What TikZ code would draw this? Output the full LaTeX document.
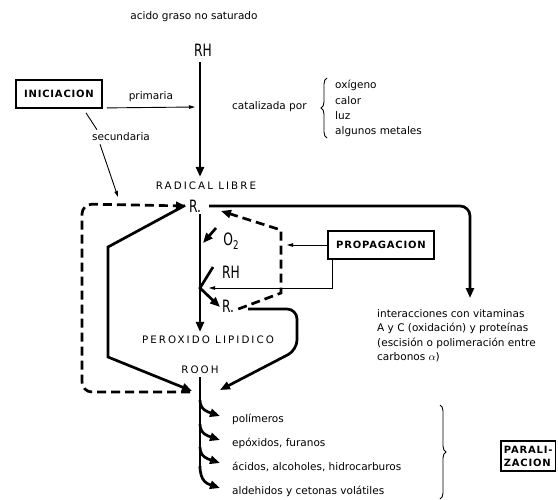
\documentclass[tikz,border=0pt]{standalone}
\usepackage{fontspec}
\setmainfont{DejaVu Sans}
\newfontfamily\capsfont[LetterSpace=20]{DejaVu Sans}
\newfontfamily\boxfont[LetterSpace=8]{DejaVu Sans}
\newfontfamily\chemfont{DejaVu Sans Condensed}
\usepackage{graphicx}
\usetikzlibrary{arrows.meta,decorations.pathreplacing}

\begin{document}
\begin{tikzpicture}[x=1pt,y=-1pt,
    txt/.style={font=\fontsize{10.5}{14.5}\selectfont, inner sep=0pt},
    caps/.style={font=\capsfont\fontsize{10.3}{12}\selectfont, inner sep=0pt},
    chem/.style={font=\chemfont\fontsize{17}{17}\selectfont, inner sep=0pt},
    boxed/.style={draw, line width=1.8pt, font=\boxfont\bfseries\fontsize{10}{13}\selectfont,
                  inner xsep=8pt, minimum height=28pt},
    bigarrow/.style={line width=2.7pt, -{Triangle[length=10pt,width=8pt]}},
    smallarrow/.style={line width=0.9pt, -{Triangle[length=6pt,width=3.5pt]}},
    thinline/.style={line width=0.9pt},
    dasharrow/.style={line width=2.7pt, dash pattern=on 9pt off 5pt,
                      -{Triangle[length=10pt,width=8pt]}},
    bracket/.style={decorate, decoration={brace, amplitude=6pt}, line width=0.9pt}]
    \useasboundingbox (0,0) rectangle (558,499);

    % Initiation: fatty acid to free radical
    \node[txt] (acid) at (194,17) {acido graso no saturado};
    \node[chem] (rh1) at (203,50) {\scalebox{0.8}[1]{RH}};
    \node[caps] (rad) at (206,186) {RADICAL LIBRE};
    \coordinate (v0) at (200,62);
    \draw[bigarrow] (v0) -- ([yshift=5pt]v0 |- rad.north);

    \node[boxed] (inic) at (59,94) {INICIACION};
    \coordinate (prim) at (195,107);
    \draw[smallarrow] ([xshift=4pt,yshift=1pt]inic.south east) -- node[txt, above=5pt] {primaria} (prim);
    \node[txt] (sec) at (121,137) {secundaria};
    \coordinate (secend) at (118,197);
    \draw[thinline] ([xshift=27pt,yshift=-4pt]inic.south) -- ([xshift=-24pt,yshift=3pt]sec.north);
    \draw[smallarrow] ([xshift=-21pt,yshift=-3pt]sec.south) -- (secend);

    \node[txt, anchor=west] (cat) at (232,107) {catalizada por};
    \draw[bracket] (327,138) -- (327,78);
    \node[txt, anchor=west] (ox) at (335,85) {oxígeno};
    \node[txt, anchor=west] (cal) at (335,101) {calor};
    \node[txt, anchor=west] (luz) at (335,116) {luz};
    \node[txt, anchor=west] (met) at (335,132) {algunos metales};

    % Propagation
    \node[chem, anchor=west] (r1) at (189,206) {\scalebox{0.8}[1]{R.}};
    \node[chem] (o2) at (231,241) {\scalebox{0.8}[1]{O\raisebox{-4pt}{\fontsize{12}{12}\selectfont 2}}};
    \node[chem] (rh2) at (231,272) {\scalebox{0.8}[1]{RH}};
    \node[chem, anchor=west] (r2) at (222,306) {\scalebox{0.8}[1]{R.}};
    \node[caps] (per) at (208,340) {PEROXIDO LIPIDICO};
    \node[caps] (rooh) at (200,370) {ROOH};
    \node[boxed] (prop) at (381,245) {PROPAGACION};

    \coordinate (v1) at (200,214);
    \coordinate (junc) at (200,288);
    \coordinate (o2s) at (216,228);
    \coordinate (o2e) at (203,243);
    \coordinate (rhs) at (213,267);
    \draw[bigarrow] (v1) -- ([yshift=4pt]v1 |- per.north);
    \draw[bigarrow] (o2s) -- (o2e);
    \draw[bigarrow] (rhs) -- (junc) -- ([xshift=-2pt,yshift=-1pt]r2.west);

    \coordinate (pin) at (287,245);
    \coordinate (pback) at (209,288);
    \draw[smallarrow] (prop.west) -- (pin);
    \draw[smallarrow] ([xshift=-49pt]prop.south) |- (pback);
    \coordinate (dtip) at (221,211);
    \draw[dasharrow] ([xshift=4pt,yshift=-3pt]r2.east) -- (281,293) -- (281,230) -- (dtip);

    % side reactions
    \coordinate (hs) at (209,206);
    \coordinate (hend) at (470,298);
    \draw[bigarrow, rounded corners=10pt] (hs) -- (hend |- hs) -- (hend);
    \node[txt, anchor=north west, align=left] (inter) at (377,309)
        {interacciones con vitaminas\\A y C (oxidación) y proteínas\\(escisión o polimeración entre\\carbonos $\alpha$)};

    \coordinate (lr) at (248,309);
    \coordinate (roohr) at (220,390);
    \draw[bigarrow, rounded corners=10pt] (lr) -- (297,309) -- (297,350) -- (roohr);

    \coordinate (roohl) at (192,391);
    \draw[bigarrow] ([xshift=-4pt,yshift=7pt]r1.south west) -- (108,247) -- (108,357) -- (roohl);
    \draw[dasharrow, rounded corners=10pt] (190,392) -- (82,392) -- (82,204) -- ([xshift=-3pt]r1.west);

    % Termination
    \draw[line width=2.7pt] ([yshift=-3pt]rooh.south -| v1) -- (200,470);
    \draw[bigarrow] (200,466) .. controls (200,482) and (208,484) .. (220,488);
    \foreach \t in {416,440,463} {
        \draw[bigarrow] (200,{\t-16}) .. controls (200,{\t-6}) and (208,{\t-4}) .. (220,\t);
    }
    \node[txt, anchor=west] (pol) at (232,419) {polímeros};
    \node[txt, anchor=west] (epo) at (232,443) {epóxidos, furanos};
    \node[txt, anchor=west] (aci) at (232,467) {ácidos, alcoholes, hidrocarburos};
    \node[txt, anchor=west] (ald) at (232,491) {aldehidos y cetonas volátiles};

    \draw[bracket] (440,405) -- (440,499);
    \node[boxed, anchor=west, align=left, inner xsep=3pt, minimum height=30pt] (par) at (500,456) {PARALI-\\ZACION};
\end{tikzpicture}
\end{document}
